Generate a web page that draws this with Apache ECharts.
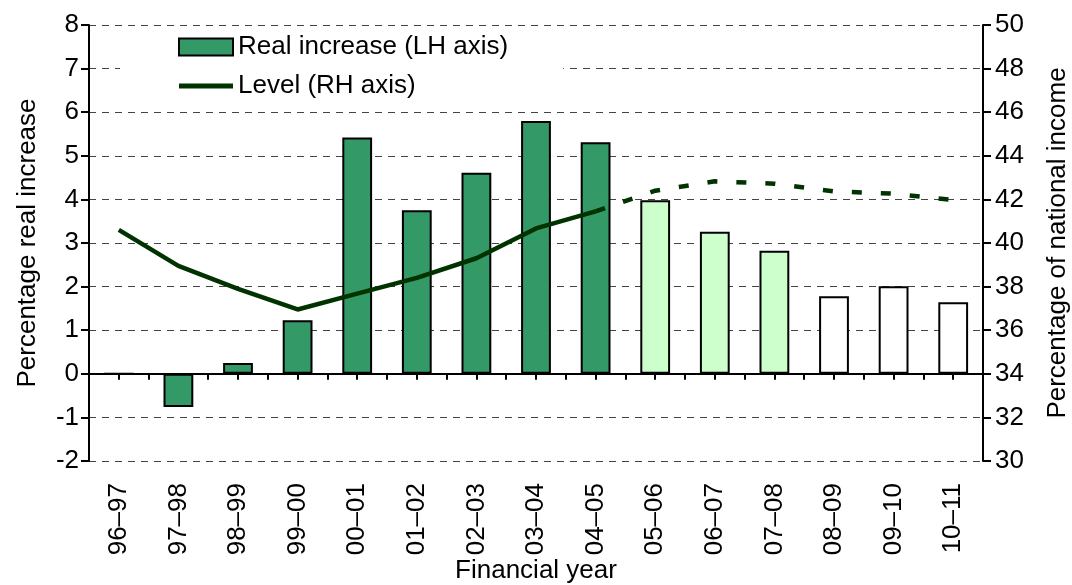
<!DOCTYPE html>
<html>
<head>
<meta charset="utf-8">
<script src="https://cdn.jsdelivr.net/npm/echarts@6/dist/echarts.min.js"></script>
<style>
  html, body { margin: 0; padding: 0; background: #fff; }
  #chart { width: 1072px; height: 585px; }
</style>
</head>
<body>
<div id="chart"></div>
<script>
// financial years on the x axis
const years = ['96–97', '97–98', '98–99', '99–00', '00–01', '01–02', '02–03', '03–04',
  '04–05', '05–06', '06–07', '07–08', '08–09', '09–10', '10–11'];
// real increase, % (LH axis)
const realIncrease = [0, -0.76, 0.25, 1.23, 5.42, 3.75, 4.61, 5.80, 5.31, 3.98, 3.26, 2.82, 1.78, 2.01, 1.64];
// which bars are outturn / estimate / plans
const barPhase = ['out', 'out', 'out', 'out', 'out', 'out', 'out', 'out', 'out',
  'est', 'est', 'est', 'plan', 'plan', 'plan'];
// level, % of national income (RH axis)
const levelOutturn = [40.6, 38.95, 37.9, 36.95, 37.68, 38.4, 39.3, 40.67, 41.45, null, null, null, null, null, null];
const levelProjection = [null, null, null, null, null, null, null, null, 41.45, 42.4, 42.83, 42.72, 42.37, 42.26, 41.97];

const phaseColor = { out: '#339966', est: '#ccffcc', plan: '#ffffff' };
const font = '"Liberation Sans", Arial, sans-serif';

// half-category slots, only used for the ticks on the zero line
const halfSlots = [];
for (let i = 0; i < years.length * 2; i++) halfSlots.push('h' + i);

const chart = echarts.init(document.getElementById('chart'));

const option = {
  animation: false,
  grid: { left: 89, right: 89, top: 25, bottom: 124, outerBoundsMode: 'none' },
  legend: {
    orient: 'vertical',
    left: 120,
    top: 28,
    padding: [5, 55, 8, 58],
    backgroundColor: '#fff',
    itemWidth: 54,
    itemHeight: 17,
    itemGap: 11,
    textStyle: { fontSize: 26, fontFamily: font, color: '#000', lineHeight: 28 },
    data: [
      { name: 'Real increase (LH axis)', icon: 'rect' },
      { name: 'Level (RH axis)', icon: 'path://M0,0H54V5H0Z', itemStyle: { color: '#003300', borderWidth: 0 } }
    ]
  },
  xAxis: [
    {
      type: 'category',
      data: years,
      position: 'bottom',
      name: 'Financial year',
      nameLocation: 'middle',
      nameGap: 97,
      nameMoveOverlap: false,
      nameTextStyle: { fontSize: 26, fontFamily: font, color: '#000' },
      axisLine: { show: false, onZero: false },
      axisTick: { show: false },
      axisLabel: { rotate: 90, fontSize: 26, fontFamily: font, color: '#000', margin: 22, interval: 0 },
      splitLine: { show: false }
    },
    {
      // zero line, ticks pointing down at every half category
      type: 'category',
      data: halfSlots,
      position: 'top',
      axisLine: { show: true, onZero: true, onZeroAxisIndex: 0, lineStyle: { color: '#000', width: 2 } },
      axisTick: { show: true, interval: 0, inside: true, length: 6, lineStyle: { color: '#000', width: 2 } },
      axisLabel: { show: false },
      splitLine: { show: false }
    }
  ],
  yAxis: [
    {
      type: 'value',
      min: -2,
      max: 8,
      interval: 1,
      name: 'Percentage real increase',
      nameLocation: 'middle',
      nameGap: 48,
      nameTextStyle: { fontSize: 26, fontFamily: font, color: '#000' },
      axisLine: { show: true, lineStyle: { color: '#000', width: 2 } },
      axisTick: { show: true, length: 8, lineStyle: { color: '#000', width: 2 } },
      axisLabel: { fontSize: 26, fontFamily: font, color: '#000', margin: 10 },
      splitLine: { show: true, lineStyle: { color: '#444', width: 1, type: [7, 6] } }
    },
    {
      type: 'value',
      min: 30,
      max: 50,
      interval: 2,
      position: 'right',
      name: 'Percentage of national income',
      nameLocation: 'middle',
      nameGap: 62,
      nameTextStyle: { fontSize: 26, fontFamily: font, color: '#000' },
      axisLine: { show: true, lineStyle: { color: '#000', width: 2 } },
      axisTick: { show: true, length: 8, lineStyle: { color: '#000', width: 2 } },
      axisLabel: { fontSize: 26, fontFamily: font, color: '#000', margin: 12 },
      splitLine: { show: false }
    }
  ],
  series: [
    {
      name: 'Real increase (LH axis)',
      type: 'bar',
      xAxisIndex: 0,
      yAxisIndex: 0,
      barWidth: '50%',
      itemStyle: { color: '#339966', borderColor: '#000', borderWidth: 2 },
      data: realIncrease.map((v, i) => ({
        value: v,
        itemStyle: { color: phaseColor[barPhase[i]] }
      })),
      // solid zero line across the plot
      markLine: {
        silent: true,
        symbol: 'none',
        label: { show: false },
        lineStyle: { color: '#000', width: 2, type: 'solid' },
        data: [{ yAxis: 0 }]
      }
    },
    {
      name: 'Level (RH axis)',
      type: 'line',
      xAxisIndex: 0,
      yAxisIndex: 1,
      symbol: 'none',
      z: 3,
      lineStyle: { color: '#003300', width: 4.5 },
      itemStyle: { color: '#003300' },
      data: levelOutturn
    },
    {
      name: 'Level projection',
      type: 'line',
      xAxisIndex: 0,
      yAxisIndex: 1,
      symbol: 'none',
      z: 3,
      lineStyle: { color: '#003300', width: 4.5, type: [10, 19] },
      data: levelProjection
    },
    {
      // empty series so the tick axis counts as used by the grid
      name: 'zero-line ticks',
      type: 'line',
      xAxisIndex: 1,
      yAxisIndex: 0,
      silent: true,
      symbol: 'none',
      data: []
    }
  ]
};

chart.setOption(option);
</script>
</body>
</html>
